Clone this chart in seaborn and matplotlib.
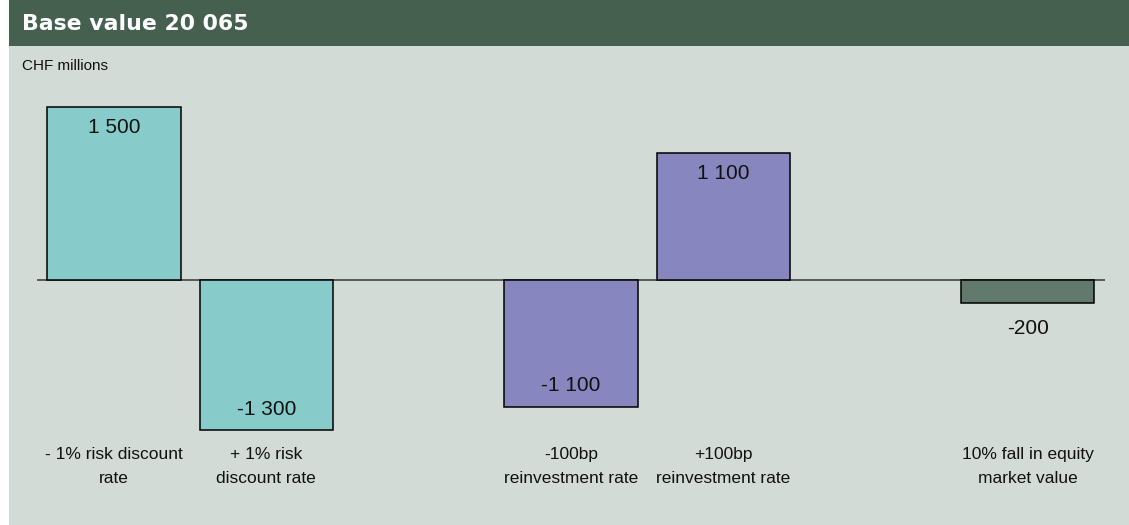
import matplotlib
matplotlib.use("Agg")
from matplotlib import pyplot as plt
from matplotlib.patches import Rectangle
import pandas as pd
import seaborn as sns

# scenario slots (blank slots leave the gaps between groups)
slots = ["m1", "p1", "gap1", "m100", "p100", "gap2", "eq"]
tick_labels = ["- 1% risk discount\nrate", "+ 1% risk\ndiscount rate", "",
               "-100bp\nreinvestment rate", "+100bp\nreinvestment rate", "",
               "10% fall in equity\nmarket value"]
values = [1500, -1300, None, -1100, 1100, None, -200]
value_labels = ["1 500", "-1 300", "", "-1 100", "1 100", "", "-200"]
colors = ["#88cbcb", "#88cbcb", "#88cbcb", "#8886be", "#8886be", "#62796e", "#62796e"]

title = "Base value 20 065"
unit = "CHF millions"

bg = "#d3dbd6"
header = "#466050"

df = pd.DataFrame({"slot": slots, "value": values})

sns.set_style("white")
plt.rcParams["font.family"] = ["Liberation Sans", "DejaVu Sans"]

fig = plt.figure(figsize=(11.29, 5.25), dpi=100)
fig.patch.set_facecolor("white")
W, H = 1129, 525
fig.patches.append(Rectangle((9 / W, 0), 1 - 9 / W, 1, transform=fig.transFigure,
                             facecolor=bg, edgecolor="none", zorder=-2))
fig.patches.append(Rectangle((9 / W, 1 - 46 / H), 1 - 9 / W, 46 / H, transform=fig.transFigure,
                             facecolor=header, edgecolor="none", zorder=-1))
fig.text(22 / W, 1 - 24 / H, title, color="white", fontsize=15.8, fontweight="bold",
         family="DejaVu Sans", va="center", ha="left")
fig.text(22 / W, 1 - 66 / H, unit, color="#111111", fontsize=11, va="center", ha="left")

ax = fig.add_axes([37 / W, 1 - 440 / H, (1105 - 37) / W, 380 / H])
ax.set_facecolor("none")
sns.barplot(data=df, x="slot", y="value", hue="slot", order=slots, hue_order=slots,
            palette=dict(zip(slots, colors)), saturation=1, legend=False, width=0.875,
            edgecolor="black", linewidth=1.1, ax=ax)

ax.set_xlim(-0.506, 6.507)
ax.set_ylim(-1388, 1908)
ax.axhline(0, color="#444444", lw=1.2, zorder=0.5)

for i, (v, lab) in enumerate(zip(values, value_labels)):
    if v is None:
        continue
    if abs(v) < 500:
        off = -18 if v < 0 else 18
    else:
        off = -15 if v > 0 else 15
    ax.annotate(lab, xy=(i, v), xytext=(0, off), textcoords="offset points",
                ha="center", va="center", fontsize=15, color="#111111")

ax.set_xticks(range(len(slots)))
ax.set_xticklabels(tick_labels, fontsize=12.5, linespacing=1.72, color="#111111")
ax.tick_params(axis="x", length=0, pad=5)
ax.set_yticks([])
ax.set_xlabel("")
ax.set_ylabel("")
sns.despine(ax=ax, left=True, bottom=True)

fig.savefig("out.png", dpi=100, facecolor=fig.get_facecolor())
